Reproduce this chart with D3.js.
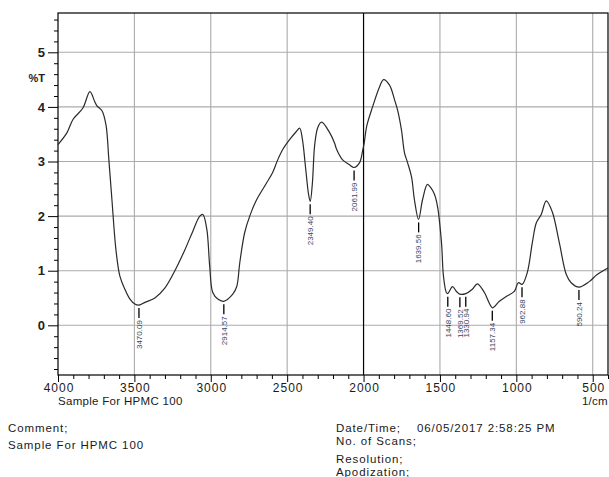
<!DOCTYPE html>
<html>
<head>
<meta charset="utf-8">
<script src="https://cdn.jsdelivr.net/npm/d3@7"></script>
<style>
  body { margin: 0; background: #fff; }
  svg { display: block; font-family: "Liberation Sans", Arial, sans-serif; }
</style>
</head>
<body>
<svg id="chart" width="609" height="477"></svg>
<script>
// ---------------------------------------------------------------------------
// Spectrum data (wavenumber 1/cm, %T)
// ---------------------------------------------------------------------------
const wavenumbers = [
  4000, 3941, 3902, 3837, 3791, 3760, 3745, 3712, 3686, 3667, 3647, 3621, 3595,
  3562, 3529, 3497, 3470, 3431, 3366, 3301, 3235, 3170, 3118, 3072, 3052, 3026,
  3007, 2987, 2954, 2915, 2856, 2830, 2810, 2778, 2745, 2700, 2634, 2595, 2562,
  2529, 2484, 2440, 2418, 2400, 2380, 2360, 2349, 2335, 2320, 2300, 2275, 2222,
  2190, 2176, 2137, 2092, 2062, 2026, 2006, 1995, 1980, 1941, 1895, 1869, 1830,
  1797, 1778, 1752, 1732, 1712, 1686, 1667, 1640, 1614, 1582, 1560, 1536, 1516,
  1490, 1477, 1458, 1449, 1418, 1392, 1370, 1331, 1288, 1255, 1209, 1176, 1157,
  1111, 1066, 1013, 987, 962, 928, 895, 869, 837, 804, 765, 719, 673, 641, 590,
  523, 471, 400
];
const transmittance = [
  3.31, 3.53, 3.77, 3.98, 4.28, 4.10, 4.02, 3.93, 3.67, 3.03, 2.30, 1.39, 0.90,
  0.66, 0.48, 0.39, 0.37, 0.42, 0.50, 0.68, 1.00, 1.38, 1.72, 2.00, 2.03, 1.76,
  1.08, 0.60, 0.48, 0.44, 0.57, 0.71, 1.15, 1.70, 2.00, 2.30, 2.61, 2.80, 3.03,
  3.22, 3.40, 3.55, 3.61, 3.40, 2.90, 2.40, 2.27, 2.60, 3.30, 3.62, 3.72, 3.53,
  3.34, 3.22, 3.03, 2.94, 2.89, 2.98, 3.20, 3.35, 3.64, 4.00, 4.37, 4.50, 4.40,
  4.13, 3.95, 3.58, 3.16, 2.98, 2.72, 2.30, 1.94, 2.30, 2.58, 2.52, 2.40, 2.18,
  1.52, 0.90, 0.60, 0.58, 0.71, 0.62, 0.57, 0.58, 0.66, 0.76, 0.60, 0.40, 0.32,
  0.44, 0.53, 0.62, 0.78, 0.75, 0.97, 1.52, 1.88, 2.03, 2.28, 2.08, 1.52, 0.93,
  0.78, 0.70, 0.80, 0.93, 1.05
];

// Peak picks: position, %T at the minimum, printed label
const peakWn     = [3470.09, 2914.57, 2349.40, 2061.99, 1639.56, 1448.60, 1369.52, 1330.94, 1157.34, 962.88, 590.24];
const peakT      = [0.37, 0.44, 2.27, 2.89, 1.94, 0.58, 0.57, 0.58, 0.32, 0.75, 0.70];
const peakLabels = ["3470.09", "2914.57", "2349.40", "2061.99", "1639.56", "1448.60", "1369.52", "1330.94", "1157.34", "962.88", "590.24"];

const xTickValues = [4000, 3500, 3000, 2500, 2000, 1500, 1000, 500];
const yTickValues = [0, 1, 2, 3, 4, 5];

const sampleName = "Sample For HPMC 100";
const infoLeft   = ["Comment;", sampleName];
const infoRight  = ["Date/Time;", "No. of Scans;", "Resolution;", "Apodization;"];
const dateText   = "06/05/2017 2:58:25 PM";

// ---------------------------------------------------------------------------
// Layout
// ---------------------------------------------------------------------------
const L = 58, R = 608, T = 13, B = 375;
const svg = d3.select("#chart");

const x = d3.scaleLinear().domain([4000, 400]).range([L, R]);
const y = d3.scaleLinear().domain([-0.91, 5.72]).range([B, T]);

const GRID = "#ababab";
const INK  = "#1a1a1a";

// Grid lines
svg.append("g").selectAll("line")
  .data(yTickValues)
  .join("line")
  .attr("x1", L).attr("x2", R)
  .attr("y1", d => y(d)).attr("y2", d => y(d))
  .attr("stroke", GRID).attr("stroke-width", 1.1);

svg.append("g").selectAll("line")
  .data(xTickValues.filter(d => d !== 4000))
  .join("line")
  .attr("x1", d => x(d)).attr("x2", d => x(d))
  .attr("y1", T).attr("y2", B)
  .attr("stroke", d => d === 2000 ? "#000" : GRID)
  .attr("stroke-width", d => d === 2000 ? 1.2 : 1.1);

// Frame
svg.append("rect")
  .attr("x", L).attr("y", T)
  .attr("width", R - L).attr("height", B - T)
  .attr("fill", "none").attr("stroke", "#000").attr("stroke-width", 1.2);

// Bottom axis: minor ticks every 100, labels every 500
const xAxis = d3.axisBottom(x)
  .tickValues(d3.range(4000, 399, -100))
  .tickSize(4)
  .tickFormat(d => xTickValues.includes(d) ? d : "");
const gx = svg.append("g").attr("transform", `translate(0,${B})`).call(xAxis);
gx.select(".domain").remove();
gx.selectAll(".tick line").attr("stroke", "#000")
  .attr("y2", d => d % 500 === 0 ? 7 : 4);
gx.selectAll(".tick text")
  .attr("y", 8).attr("dx", "0.5px")
  .attr("font-size", 12).attr("letter-spacing", "1px").attr("fill", INK)
  .attr("font-family", "Liberation Sans, Arial, sans-serif");

// Left axis: minor ticks every 0.2, labels every 1
const yAxis = d3.axisLeft(y)
  .tickValues(d3.range(-0.8, 5.61, 0.2).map(v => Math.round(v * 10) / 10))
  .tickSize(4)
  .tickFormat(d => yTickValues.includes(d) ? d : "");
const gy = svg.append("g").attr("transform", `translate(${L},0)`).call(yAxis);
gy.select(".domain").remove();
gy.selectAll(".tick line").attr("stroke", "#000")
  .attr("x2", d => yTickValues.includes(d) ? -10 : -4);
gy.selectAll(".tick text")
  .attr("x", -13).attr("font-size", 13).attr("font-weight", "bold").attr("fill", "#222")
  .attr("font-family", "Liberation Sans, Arial, sans-serif");

svg.append("text")
  .attr("x", 45).attr("y", 82)
  .attr("text-anchor", "end")
  .attr("font-size", 11).attr("font-weight", "bold").attr("fill", "#222")
  .text("%T");

// Spectrum curve
const pts = wavenumbers.map((w, i) => [w, transmittance[i]]);
const line = d3.line()
  .x(d => x(d[0])).y(d => y(d[1]))
  .curve(d3.curveCatmullRom.alpha(0.5));

svg.append("path")
  .datum(pts)
  .attr("d", line)
  .attr("fill", "none")
  .attr("stroke", "#2a2a2a")
  .attr("stroke-width", 1.2);

// Peak picks: short leader + rotated label
const peaks = svg.append("g").selectAll("g")
  .data(peakWn.map((w, i) => ({ w, t: peakT[i], label: peakLabels[i] })))
  .join("g")
  .attr("transform", d => `translate(${x(d.w)},${y(d.t) + 3})`);

peaks.append("line")
  .attr("x1", 0).attr("x2", 0).attr("y1", 0).attr("y2", 10)
  .attr("stroke", "#000").attr("stroke-width", 1.3);

peaks.append("text")
  .attr("transform", "translate(0,12) rotate(-90)")
  .attr("text-anchor", "end")
  .attr("dy", "0.35em")
  .attr("font-size", 8)
  .attr("fill", "#3a4660")
  .text(d => d.label);

// Under-axis captions
svg.append("text")
  .attr("x", L).attr("y", 405)
  .attr("font-size", 11.5).attr("letter-spacing", "0.3px").attr("fill", INK)
  .text(sampleName);

svg.append("text")
  .attr("x", R).attr("y", 405)
  .attr("text-anchor", "end")
  .attr("font-size", 11.5).attr("letter-spacing", "0.3px").attr("fill", INK)
  .text("1/cm");

// Info block
const info = { "font-size": 11.5, "letter-spacing": "0.9px", fill: INK };
function styleInfo(sel) {
  Object.entries(info).forEach(([k, v]) => sel.attr(k, v));
  return sel;
}

svg.append("g").selectAll("text")
  .data(infoLeft)
  .join("text")
  .attr("x", 8).attr("y", (d, i) => 432 + i * 17)
  .call(styleInfo)
  .text(d => d);

svg.append("g").selectAll("text")
  .data(infoRight)
  .join("text")
  .attr("x", 336).attr("y", (d, i) => [432, 445, 463, 476][i])
  .call(styleInfo)
  .text(d => d);

svg.append("text")
  .attr("x", 417).attr("y", 432)
  .call(styleInfo)
  .text(dateText);
</script>
</body>
</html>
